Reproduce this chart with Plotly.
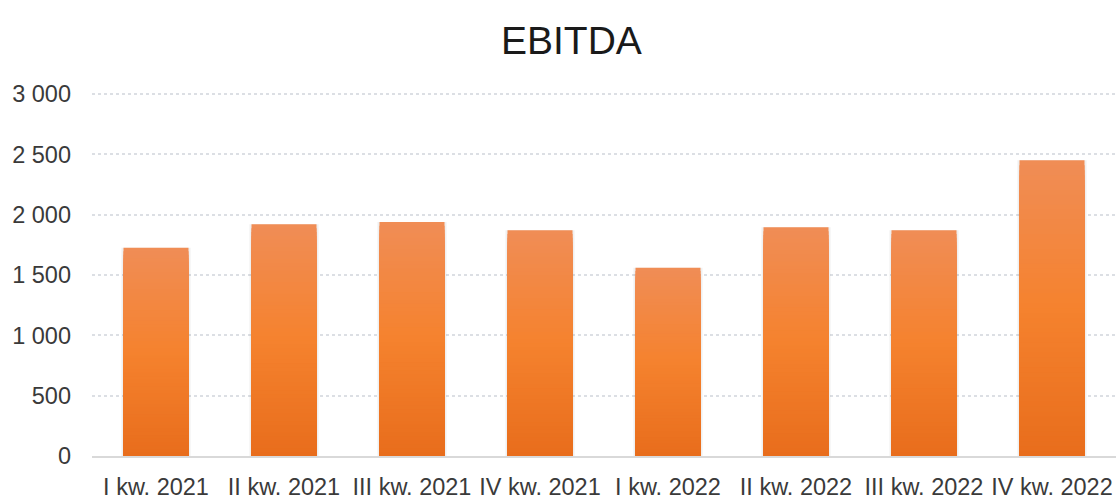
import plotly.graph_objects as go

categories = ["I kw. 2021", "II kw. 2021", "III kw. 2021", "IV kw. 2021",
              "I kw. 2022", "II kw. 2022", "III kw. 2022", "IV kw. 2022"]
ebitda = [1725, 1920, 1940, 1870, 1560, 1895, 1870, 2450]
y_ticks = [0, 500, 1000, 1500, 2000, 2500, 3000]

# vertical gradient colours (bottom -> middle -> top)
grad_stops = [(0.0, (232, 109, 28)), (0.5, (245, 130, 46)), (1.0, (240, 141, 86))]
N = 60


def lerp_color(t):
    for (t0, c0), (t1, c1) in zip(grad_stops[:-1], grad_stops[1:]):
        if t0 <= t <= t1:
            f = (t - t0) / (t1 - t0)
            return "rgb(%d,%d,%d)" % tuple(round(a + (b - a) * f) for a, b in zip(c0, c1))
    return "rgb(%d,%d,%d)" % grad_stops[-1][1]


fig = go.Figure()

# soft shadow behind bars
fig.add_trace(go.Bar(
    x=categories, y=ebitda, width=0.54,
    marker=dict(color="rgba(0,0,0,0.06)", line=dict(width=0)),
    hoverinfo="skip", showlegend=False,
))

# gradient: overlapping bars from full height (top colour) down to short (bottom colour)
for k in range(N):
    frac = (N - k) / N
    t = (N - k - 0.5) / N
    fig.add_trace(go.Bar(
        x=categories,
        y=[v * frac for v in ebitda],
        width=0.508,
        marker=dict(color=lerp_color(t), line=dict(width=0)),
        hoverinfo="skip" if k else "x+y",
        showlegend=False,
    ))

fig.update_layout(
    width=1116, height=500,
    margin=dict(l=92, r=0, t=90, b=41),
    barmode="overlay",
    plot_bgcolor="white", paper_bgcolor="white",
    separators=", ",
    font=dict(family="Liberation Sans, Arial, sans-serif", size=23.5, color="#3a3a3a"),
    title=dict(text="EBITDA", x=0.512, xanchor="center", y=0.92, yanchor="middle",
               font=dict(size=39, color="#1a1a1a")),
    xaxis=dict(showgrid=False, showline=True, linecolor="#D9D9D9", linewidth=1.5,
               ticks="", ticklabelstandoff=9, tickfont=dict(size=23.5, color="#3a3a3a")),
    yaxis=dict(range=[0, 3033], tickvals=y_ticks, tickformat=",d",
               showgrid=True, gridcolor="#DCDFE4", griddash="dot", gridwidth=1.5,
               zeroline=False, showline=False, ticks="", ticklabelstandoff=20,
               tickfont=dict(size=23.5, color="#3a3a3a")),
)

fig.write_html("out.html")
